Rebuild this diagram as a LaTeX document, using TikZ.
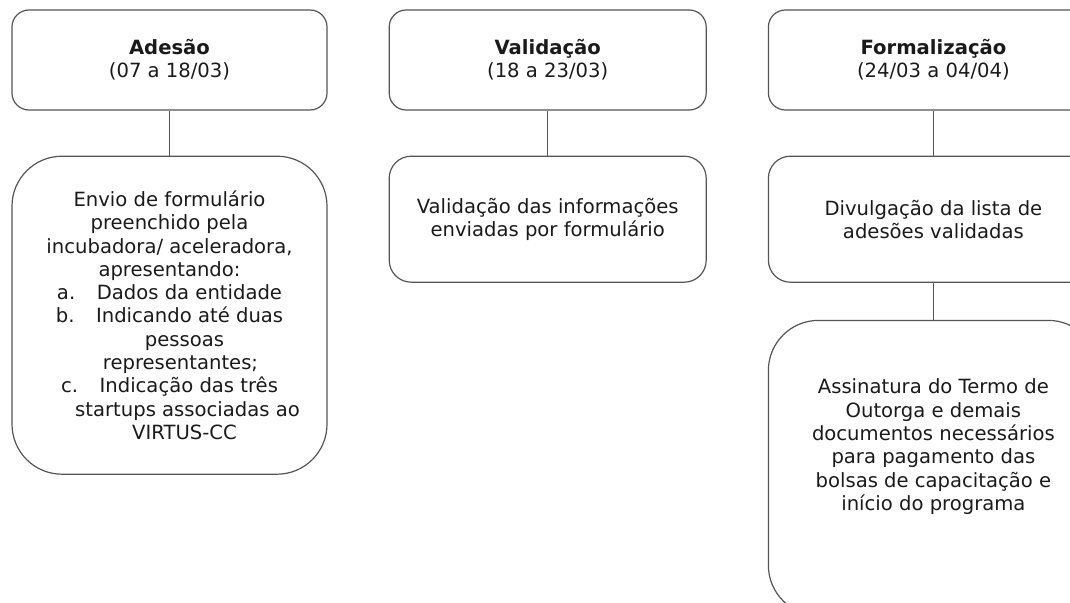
\documentclass[tikz,border=0pt]{standalone}
\usepackage{fontspec}
\setmainfont{DejaVu Sans}
\usetikzlibrary{positioning}
\definecolor{framegray}{HTML}{555555}
\definecolor{inkblack}{HTML}{1A1A1A}

\begin{document}
\begin{tikzpicture}[x=1pt,y=1pt,node distance=45pt and 61pt,
  every node/.style={text=inkblack,font=\fontsize{19.6}{23.3}\selectfont},
  phase/.style={draw=framegray,line width=1.2pt,rounded corners=17pt,
    minimum width=315pt,minimum height=100pt,align=center,inner sep=0pt},
  task/.style={draw=framegray,line width=1.2pt,rounded corners=22pt,
    minimum width=315pt,minimum height=126pt,align=center,inner sep=0pt},
  link/.style={draw=framegray,line width=1.2pt}]
  \useasboundingbox (0,0) rectangle (1070,-602);
  \clip (0,0) rectangle (1070,-602);
  % phases
  \node [phase] (adesao) at (169.5,-60) {\textbf{Adesão}\\(07 a 18/03)};
  \node [phase,minimum width=317pt] (validacao) [right=of adesao] {\textbf{Validação}\\(18 a 23/03)};
  \node [phase,minimum width=330pt] (formal) [right=of validacao] {\textbf{Formalização}\\(24/03 a 04/04)};
  % tasks
  \node [task,rounded corners=50pt,minimum height=318pt] (envio) [below=of adesao]
    {Envio de formulário\\preenchido pela\\incubadora/ aceleradora,\\apresentando:\\
     a.\hspace{1.1em}Dados da entidade\\b.\hspace{1.1em}Indicando até duas\\
     \hspace*{30pt}pessoas\\\hspace*{22pt}representantes;\\
     c.\hspace{1.1em}Indicação das três\\\hspace*{36pt}startups associadas ao\\
     \hspace*{30pt}VIRTUS-CC};
  \node [task,minimum width=317pt] (valinfo) [below=of validacao]
    {Validação das informações\\enviadas por formulário};
  \node [task,minimum width=330pt] (divulga) [below=of formal]
    {Divulgação da lista de\\adesões validadas};
  \node [task,minimum width=330pt,rounded corners=50pt,minimum height=295pt] (assina) [below=37pt of divulga]
    {Assinatura do Termo de\\Outorga e demais\\documentos necessários\\para pagamento das\\
     bolsas de capacitação e\\início do programa\\\mbox{}\\\mbox{}};
  % connectors
  \draw [link] (adesao) -- (envio);
  \draw [link] (validacao) -- (valinfo);
  \draw [link] (formal) -- (divulga);
  \draw [link] (divulga) -- (assina);
\end{tikzpicture}
\end{document}
